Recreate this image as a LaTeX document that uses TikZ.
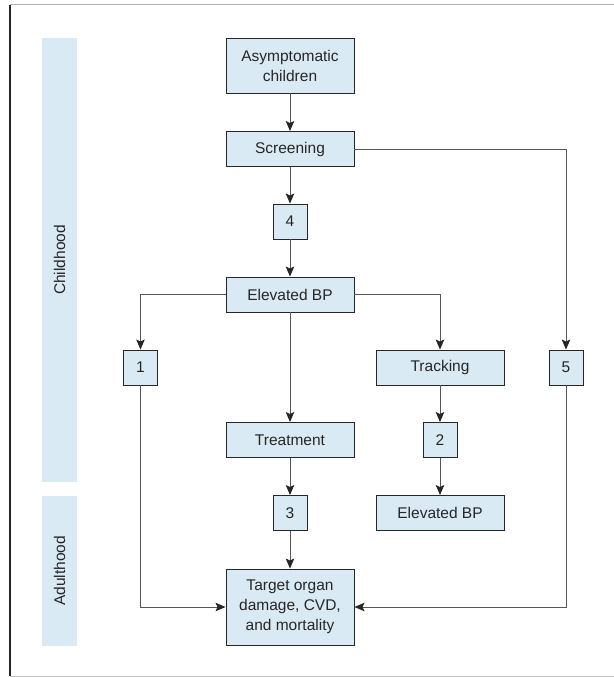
\documentclass[tikz,border=0pt]{standalone}
\usepackage{fontspec}
\setmainfont{Liberation Sans}
\usepackage{xcolor}
\usetikzlibrary{positioning,calc,arrows.meta}
\definecolor{boxblue}{RGB}{217,234,244}
\definecolor{linegray}{RGB}{85,85,85}
\definecolor{textgray}{RGB}{38,38,38}

\begin{document}
\begin{tikzpicture}[x=1pt, y=-1pt,
    font=\fontsize{15.5}{20}\selectfont, text=textgray,
    stagebox/.style={draw=textgray, fill=boxblue, line width=0.9pt, minimum width=128pt, minimum height=35pt, inner sep=0pt, align=center},
    numbox/.style={stagebox, minimum width=34pt},
    band/.style={fill=boxblue, inner sep=0pt, minimum height=35pt, rotate=90},
    link/.style={draw=linegray, line width=0.9pt, -{Stealth[length=10pt,width=8.5pt,inset=2pt,color=black!85]}}]
        \useasboundingbox (0,0) rectangle (613,677);

        % Frame
        \draw[gray!60, line width=1pt] (618,5) -- (10,5);
        \draw[gray!50, line width=1pt] (10,676) -- (618,676);
        \draw[black!85, line width=1.5pt] (10,5) -- (10,676);

        % Life stages
        \node[band, minimum width=444pt] (childhood) at (59.5,260) {Childhood};
        \node[band, minimum width=150pt] (adulthood) at (59.5,571) {Adulthood};

        % Main column
        \node[stagebox, minimum height=55pt] (asym) at (290,65.5) {Asymptomatic\\children};
        \node[stagebox] (screen) at (290,149) {Screening};
        \node[numbox] (four) at (290,221.5) {4};
        \node[stagebox] (elev) at (290,294.5) {Elevated BP};
        \node[stagebox] (treat) at (290,440) {Treatment};
        \node[numbox] (three) at (290,513) {3};
        \node[stagebox, minimum height=76pt] (target) at (290,607) {Target organ\\damage, CVD,\\and mortality};

        % Side branches
        \node[numbox] (one) at (140.5,367.5) {1};
        \node[stagebox] (track) at (440,367.5) {Tracking};
        \node[numbox] (two) at (440,440) {2};
        \node[stagebox] (elevadult) at (440,513) {Elevated BP};
        \node[numbox] (five) at (566,367.5) {5};

        % Connectors
        \draw[link] (asym) -- (screen);
        \draw[link] (screen) -- (four);
        \draw[link] (four) -- (elev);
        \draw[link] (elev) -- (treat);
        \draw[link] (treat) -- (three);
        \draw[link] (three) -- (target);
        \draw[link] (track) -- (two);
        \draw[link] (two) -- (elevadult);
        \draw[link] (elev.west) -| (one.north);
        \draw[link] (elev.east) -| (track.north);
        \draw[link] (screen.east) -| (five.north);
        \draw[link] (one.south) |- (target.west);
        \draw[link] (five.south) |- (target.east);
    \end{tikzpicture}
\end{document}
